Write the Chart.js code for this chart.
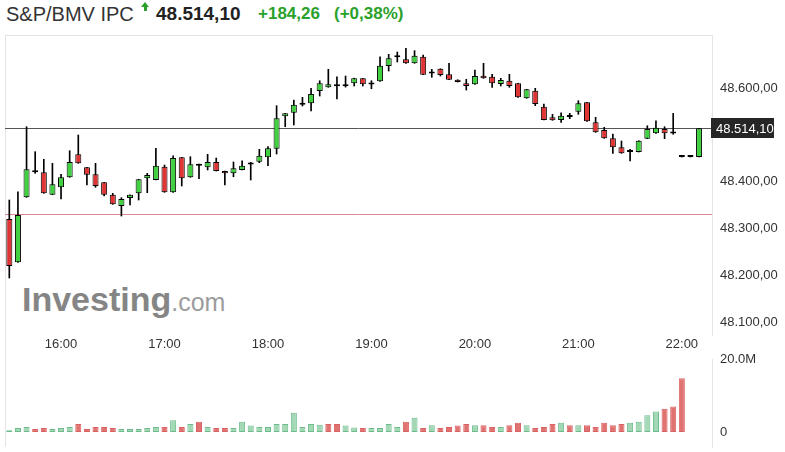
<!DOCTYPE html>
<html>
<head>
<meta charset="utf-8">
<script src="https://cdn.jsdelivr.net/npm/chart.js@4.4.0/dist/chart.umd.min.js"></script>
<style>
  body { margin: 0; background: #fff; font-family: "Liberation Sans", Arial, sans-serif; }
  #wrap { position: relative; width: 785px; height: 452px; overflow: hidden; }
  .hd { position: absolute; top: 0; line-height: 28px; white-space: nowrap; }
  .title { left: 6px; font-size: 20px; color: #333; }
  .last { left: 156px; font-size: 19px; font-weight: bold; color: #222; }
  .chg { left: 258px; font-size: 17px; font-weight: bold; color: #2aa12a; }
  .pct { left: 334px; font-size: 17px; font-weight: bold; color: #2aa12a; }
  .arrow { position: absolute; left: 141px; top: 2px; width: 0; height: 0;
           border-left: 4.5px solid transparent; border-right: 4.5px solid transparent;
           border-bottom: 5px solid #2aa12a; }
  .arrow::after { content: ''; position: absolute; left: -1.5px; top: 5px; width: 3px; height: 4px; background: #2aa12a; }
  .mark { position: absolute; left: 22px; top: 282px; line-height: 34px; white-space: nowrap; }
  .mark b { font-size: 34px; color: #858585; }
  .mark span { font-size: 25px; color: #9c9c9c; }
  canvas { position: absolute; left: 0; }
  #price { top: 30px; }
  #vol { top: 350px; }
</style>
</head>
<body>
<div id="wrap">
  <div class="hd title">S&amp;P/BMV IPC</div>
  <div class="arrow"></div>
  <div class="hd last">48.514,10</div>
  <div class="hd chg">+184,26</div>
  <div class="hd pct">(+0,38%)</div>
  <div class="mark"><b>Investing</b><span>.com</span></div>
  <canvas id="price" width="785" height="330"></canvas>
  <canvas id="vol" width="785" height="102"></canvas>
</div>
<script>
// 5-minute bars, 15:30 .. 22:15
const times = [
  '15:30','15:35','15:40','15:45','15:50','15:55',
  '16:00','16:05','16:10','16:15','16:20','16:25','16:30','16:35','16:40','16:45','16:50','16:55',
  '17:00','17:05','17:10','17:15','17:20','17:25','17:30','17:35','17:40','17:45','17:50','17:55',
  '18:00','18:05','18:10','18:15','18:20','18:25','18:30','18:35','18:40','18:45','18:50','18:55',
  '19:00','19:05','19:10','19:15','19:20','19:25','19:30','19:35','19:40','19:45','19:50','19:55',
  '20:00','20:05','20:10','20:15','20:20','20:25','20:30','20:35','20:40','20:45','20:50','20:55',
  '21:00','21:05','21:10','21:15','21:20','21:25','21:30','21:35','21:40','21:45','21:50','21:55',
  '22:00','22:05','22:10','22:15'
];

const opens = [
  48320.1, 48227.5, 48366.4, 48422.5, 48419.9, 48372.0, 48387.8, 48409.2, 48458.3, 48430.5,
  48415.6, 48398.5, 48372.0, 48347.8, 48364.9, 48375.0, 48407.0, 48403.4, 48431.8, 48377.1,
  48451.9, 48409.2, 48435.8, 48430.5, 48441.9, 48422.6, 48417.7, 48424.8, 48436.5, 48442.5,
  48451.9, 48470.3, 48539.5, 48547.2, 48564.5, 48567.3, 48593.6, 48601.5, 48603.6, 48603.6,
  48610.0, 48620.7, 48607.5, 48614.3, 48647.0, 48665.5, 48661.3, 48652.8, 48666.9, 48631.0,
  48641.2, 48629.3, 48617.7, 48610.0, 48607.9, 48626.3, 48624.1, 48608.5, 48615.6, 48610.0,
  48578.0, 48594.2, 48560.0, 48537.4, 48531.6, 48538.0, 48549.4, 48569.4, 48526.7, 48510.2,
  48492.5, 48473.3, 48463.8, 48463.2, 48491.7, 48503.2, 48512.4, 48504.0, 48452.5, 48452.5,
  48452.5
];
const highs = [
  48360.7, 48378.4, 48517.3, 48463.9, 48447.6, 48439.1, 48415.6, 48466.0, 48499.6, 48430.5,
  48439.1, 48398.5, 48375.0, 48365.6, 48372.0, 48405.0, 48417.7, 48471.1, 48435.4, 48455.3,
  48451.9, 48453.2, 48437.6, 48458.3, 48450.4, 48422.6, 48441.9, 48444.6, 48441.2, 48469.0,
  48474.6, 48562.2, 48545.9, 48574.4, 48580.1, 48599.4, 48615.6, 48640.0, 48624.1, 48625.6,
  48621.0, 48620.7, 48615.6, 48666.9, 48672.0, 48676.9, 48684.8, 48679.7, 48670.5, 48640.0,
  48641.2, 48652.8, 48617.7, 48618.6, 48638.5, 48652.8, 48629.3, 48620.7, 48629.3, 48610.0,
  48597.2, 48599.4, 48565.8, 48543.8, 48547.2, 48545.9, 48572.9, 48569.4, 48537.4, 48516.0,
  48501.7, 48486.7, 48469.0, 48487.4, 48519.4, 48530.1, 48517.3, 48545.9, 48452.5, 48452.5,
  48514.1
];
const lows = [
  48194.0, 48227.5, 48366.4, 48417.7, 48375.0, 48372.0, 48362.8, 48409.2, 48439.1, 48392.7,
  48387.8, 48369.2, 48351.5, 48326.5, 48350.0, 48360.7, 48376.3, 48403.4, 48377.1, 48377.1,
  48390.6, 48409.2, 48406.2, 48424.8, 48422.6, 48392.7, 48410.4, 48424.8, 48403.4, 48440.4,
  48434.0, 48459.0, 48517.3, 48520.9, 48561.5, 48550.8, 48582.9, 48601.5, 48576.5, 48602.0,
  48604.3, 48604.3, 48598.5, 48614.3, 48636.3, 48655.6, 48652.8, 48652.8, 48628.4, 48622.9,
  48625.6, 48617.7, 48612.8, 48595.7, 48607.9, 48620.7, 48601.5, 48604.3, 48601.5, 48580.1,
  48578.0, 48562.2, 48531.6, 48531.0, 48526.7, 48534.4, 48543.8, 48528.8, 48505.3, 48492.5,
  48460.5, 48460.5, 48444.0, 48463.2, 48491.7, 48503.2, 48491.7, 48501.1, 48452.5, 48452.5,
  48452.5
];
const closes = [
  48219.6, 48328.6, 48426.3, 48420.0, 48375.0, 48394.2, 48409.2, 48441.9, 48439.1, 48414.7,
  48390.6, 48372.0, 48351.5, 48362.8, 48372.0, 48404.9, 48414.1, 48434.0, 48377.1, 48450.4,
  48407.0, 48436.9, 48434.0, 48441.9, 48422.6, 48417.7, 48428.4, 48434.0, 48437.6, 48455.3,
  48471.1, 48535.2, 48545.9, 48564.3, 48565.8, 48587.2, 48610.0, 48607.9, 48604.0, 48604.5,
  48620.7, 48607.9, 48608.5, 48647.7, 48663.5, 48666.2, 48652.8, 48669.0, 48628.4, 48632.0,
  48627.8, 48617.7, 48612.8, 48604.3, 48625.6, 48620.7, 48610.0, 48617.1, 48604.3, 48580.1,
  48597.2, 48565.8, 48531.6, 48531.0, 48540.8, 48539.0, 48567.3, 48528.8, 48505.3, 48492.5,
  48473.3, 48460.5, 48463.2, 48487.4, 48512.4, 48515.2, 48503.2, 48503.0, 48452.5, 48452.5,
  48514.1
];
// volume in millions
const volumeM = [
  0.46, 1.1, 1.39, 0.83, 1.1, 0.83, 1.1, 1.39, 2.2, 0.83,
  1.39, 1.39, 1.1, 0.83, 0.83, 0.83, 1.1, 1.39, 1.39, 3.24,
  1.39, 2.2, 2.8, 1.39, 1.1, 1.1, 1.1, 2.8, 1.76, 1.39,
  1.39, 2.2, 2.2, 5.3, 1.39, 2.2, 2.0, 2.2, 2.2, 1.76,
  1.2, 1.1, 1.1, 1.1, 2.2, 1.39, 2.8, 3.9, 1.1, 1.85,
  1.1, 1.39, 1.76, 2.2, 1.85, 1.85, 1.39, 1.39, 1.85, 2.5,
  1.85, 1.1, 1.39, 2.2, 2.5, 1.85, 1.85, 1.85, 1.39, 2.5,
  1.85, 2.2, 2.5, 2.8, 4.6, 5.6, 6.4, 7.0, 14.7
];

const lastPrice = 48514.10;
const prevClose = 48329.84;
const priceTicks = [48100, 48200, 48300, 48400, 48600];
const volTicks = [0, 20];

const UP = '#40d040', DOWN = '#e03535';
const VOL_UP = '#a2d8b6', VOL_UP_LINE = '#6dbb8b';
const VOL_DOWN = '#e07272', VOL_DOWN_LINE = '#d96262';
const FRAME = '#e4e4e4';

function fmtPrice(v) {
  const parts = v.toFixed(2).split('.');
  return parts[0].replace(/\B(?=(\d{3})+(?!\d))/g, '.') + ',' + parts[1];
}

const bodies = opens.map((o, i) => [Math.min(o, closes[i]), Math.max(o, closes[i])]);
const wicks = lows.map((l, i) => [l, highs[i]]);
const bodyColors = opens.map((o, i) => closes[i] >= o ? UP : DOWN);
const volUp = volumeM.map((v, i) => i === 0 || closes[i] >= closes[i - 1]);

const framePlugin = {
  id: 'frame',
  beforeDraw(chart, args, opts) {
    const { ctx, chartArea: a } = chart;
    ctx.save();
    ctx.strokeStyle = FRAME;
    ctx.lineWidth = 1;
    ctx.beginPath();
    if (opts.top) {
      ctx.moveTo(a.left, a.top + 0.5);
      ctx.lineTo(a.right, a.top + 0.5);
    }
    ctx.moveTo(a.left + 0.5, opts.top ? a.top : 0);
    ctx.lineTo(a.left + 0.5, opts.top ? chart.height : a.bottom);
    ctx.stroke();
    ctx.restore();
  }
};

const levelsPlugin = {
  id: 'levels',
  beforeDatasetsDraw(chart) {
    const { ctx, chartArea: a, scales: { y } } = chart;
    const line = (v, color) => {
      const py = Math.round(y.getPixelForValue(v)) + 0.5;
      ctx.strokeStyle = color;
      ctx.beginPath();
      ctx.moveTo(a.left, py);
      ctx.lineTo(a.right, py);
      ctx.stroke();
    };
    ctx.save();
    ctx.lineWidth = 1;
    line(prevClose, '#de8a94');
    line(lastPrice, '#555');
    ctx.restore();
  },
  afterDraw(chart) {
    const { ctx, chartArea: a, scales: { y } } = chart;
    const py = Math.round(y.getPixelForValue(lastPrice));
    ctx.save();
    ctx.fillStyle = '#262626';
    ctx.fillRect(a.right - 1, py - 10, 63, 20);
    ctx.fillStyle = '#fff';
    ctx.font = '13px "Liberation Sans", Arial, sans-serif';
    ctx.textBaseline = 'middle';
    ctx.fillText(fmtPrice(lastPrice), a.right + 4, py + 1);
    ctx.restore();
  }
};

const tickFont = { family: '"Liberation Sans", Arial, sans-serif', size: 13 };

new Chart(document.getElementById('price'), {
  type: 'bar',
  data: {
    labels: times,
    datasets: [
      {
        label: 'body',
        data: bodies,
        backgroundColor: bodyColors,
        borderColor: '#000',
        borderWidth: 1,
        borderSkipped: false,
        grouped: false,
        categoryPercentage: 1,
        barPercentage: 0.7,
        minBarLength: 2,
        order: 0
      },
      {
        label: 'wick',
        data: wicks,
        backgroundColor: '#000',
        barThickness: 1,
        grouped: false,
        order: 1
      }
    ]
  },
  options: {
    responsive: false,
    animation: false,
    devicePixelRatio: 1,
    layout: { padding: { top: 5, left: 5, right: 0, bottom: 0 } },
    plugins: { legend: { display: false }, tooltip: { enabled: false }, frame: { top: true } },
    scales: {
      x: {
        grid: { display: false },
        border: { display: false },
        ticks: {
          autoSkip: false, maxRotation: 0, padding: -6, color: '#333', font: tickFont,
          callback: (v, i) => times[i].endsWith(':00') ? times[i] : ''
        },
        afterFit: s => { s.height = 25; s.paddingLeft = 0; s.paddingRight = 0; }
      },
      y: {
        position: 'right',
        min: 48072.2,
        max: 48713.3,
        grid: { display: false },
        border: { display: true, color: FRAME },
        ticks: { padding: 0, color: '#333', font: tickFont, callback: v => fmtPrice(v) },
        afterBuildTicks: s => { s.ticks = priceTicks.map(v => ({ value: v })); },
        afterFit: s => { s.width = 73; s.paddingTop = 0; s.paddingBottom = 0; }
      }
    }
  },
  plugins: [framePlugin, levelsPlugin]
});

new Chart(document.getElementById('vol'), {
  type: 'bar',
  data: {
    labels: times,
    datasets: [{
      data: volumeM,
      backgroundColor: volUp.map(u => u ? VOL_UP : VOL_DOWN),
      borderColor: volUp.map(u => u ? VOL_UP_LINE : VOL_DOWN_LINE),
      borderWidth: 1,
      borderSkipped: false,
      categoryPercentage: 1,
      barPercentage: 0.7
    }]
  },
  options: {
    responsive: false,
    animation: false,
    devicePixelRatio: 1,
    layout: { padding: { top: 9, left: 5, right: 0, bottom: 5 } },
    plugins: { legend: { display: false }, tooltip: { enabled: false }, frame: { top: false } },
    scales: {
      x: { display: false },
      y: {
        position: 'right',
        min: -4.11,
        max: 20,
        grid: { display: false },
        border: { display: true, color: FRAME },
        ticks: { padding: 0, color: '#333', font: tickFont, callback: v => v === 0 ? '0' : v.toFixed(1) + 'M' },
        afterBuildTicks: s => { s.ticks = volTicks.map(v => ({ value: v })); },
        afterFit: s => { s.width = 73; s.paddingTop = 0; s.paddingBottom = 0; }
      }
    }
  },
  plugins: [framePlugin]
});
</script>
</body>
</html>
